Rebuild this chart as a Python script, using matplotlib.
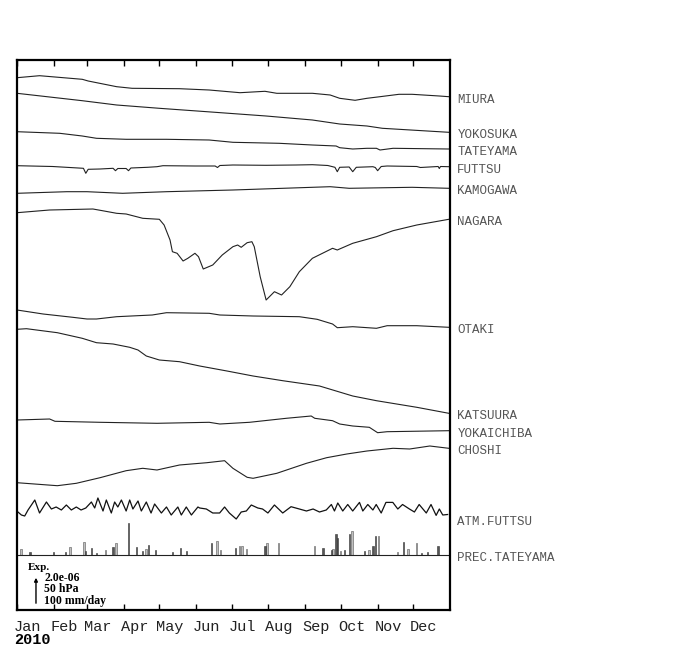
import numpy as np
import matplotlib.pyplot as plt
from matplotlib import transforms

# x = day of year 2010, y = trace position on the sheet (downwards)
miura_d = [0, 19, 55, 60, 84, 97, 137, 162, 188, 209, 219, 249, 264, 272, 285, 295, 306, 322, 333, 356, 364]
miura_y = [77.7, 75.7, 79.3, 81, 86.7, 88.3, 88.7, 90, 92.7, 91.3, 93.3, 93.3, 95, 98.3, 100.3, 98.3, 96.7, 94.3, 94.3, 96, 96.7]

yokosuka_d = [0, 55, 84, 120, 160, 210, 249, 272, 295, 308, 364]
yokosuka_y = [93.3, 100.7, 105, 108.3, 111.7, 116, 120, 124, 126, 128.3, 132.3]

tateyama_d = [0, 36, 55, 67, 92, 126, 162, 182, 221, 249, 269, 272, 283, 295, 303, 306, 317, 364]
tateyama_y = [131.7, 133.3, 136, 138.3, 139.3, 139.3, 140, 142.3, 143.3, 145, 146, 147.7, 149, 148.3, 148.3, 150, 148.3, 149]

futtsu_d = [0, 30, 56, 58, 60, 70, 81, 83, 85, 92, 94, 96, 110, 118, 123, 150, 167, 169, 171, 182, 210,
            235, 249, 262, 268, 270, 272, 280, 283, 286, 300, 302, 304, 307, 312, 337, 340, 355, 356, 357, 364]
futtsu_y = [165.7, 166.5, 168.3, 173.3, 169.3, 169, 168.3, 170.7, 168.5, 168.5, 170.7, 168, 167.3, 166.7, 165.7,
            166, 166, 167.5, 165.5, 165, 165.3, 165, 164.7, 165.5, 167.3, 171.7, 167.3, 167, 171.7, 167.3,
            166.7, 167.5, 170.7, 166.5, 166, 166.5, 167.5, 166.5, 168.5, 166.5, 166.7]

kamogawa_d = [0, 42, 59, 89, 126, 182, 249, 264, 280, 333, 364]
kamogawa_y = [193.3, 191.7, 191.7, 193.3, 191.7, 190, 187.3, 186.7, 188.3, 187.3, 188.3]

nagara_d = [0, 27.5, 64, 72, 84, 92, 106, 120, 124, 129, 131, 135, 140, 144, 150, 153, 157, 165, 173, 182,
            186, 189, 194, 198, 200, 205, 210, 217, 223, 230, 238, 249, 266, 270, 283, 303, 317, 337, 364]
nagara_y = [212.7, 210, 209, 210.7, 213.3, 214, 218.3, 219.3, 225, 240, 251.7, 253.3, 261, 258.3, 253.3,
            256.7, 269, 265, 255, 246.7, 245, 247.3, 242.7, 241.7, 246.7, 276.7, 300, 291.7, 295, 286.7,
            271.7, 258.3, 248.3, 250, 243.3, 236.7, 230.7, 225, 219.3]

otaki_d = [0, 22, 47, 59, 67, 84, 114, 126, 162, 171, 199, 238, 253, 266, 270, 283, 303, 312, 337, 364]
otaki_y = [310, 314, 317.3, 319, 319, 316.7, 315, 312.7, 313.3, 315, 316, 316.7, 319.3, 324, 327.7, 326.7,
           328.3, 325.7, 325.7, 327.3]

katsuura_d = [0, 8, 34, 55, 67, 81, 95, 102, 109, 120, 137, 154, 177, 199, 224, 255, 283, 303, 337, 364]
katsuura_y = [329.3, 328.7, 332.7, 338.3, 342.7, 344, 347.3, 350, 356, 360, 361.7, 366, 371, 376, 380.7,
              386, 396, 400.7, 407.3, 413.3]

yokaichiba_d = [0, 27.5, 32, 70, 118, 162, 171, 196, 227, 248, 251, 266, 272, 283, 297, 304, 312, 364]
yokaichiba_y = [420, 419, 421.3, 422.3, 423.3, 422.3, 424, 422.3, 418.3, 416, 418.3, 420.7, 424, 426,
                427.3, 432.7, 431.7, 430.7]

choshi_d = [0, 34, 50, 70, 92, 106, 118, 137, 160, 175, 182, 194, 199, 219, 244, 261, 278, 295, 317, 331, 348, 364]
choshi_y = [482.7, 485.7, 483.3, 477.7, 470.7, 468.3, 470, 465, 462.7, 460.7, 468.3, 477.3, 478.3, 473.3,
            463.3, 457.7, 454, 451, 448.3, 449, 446, 448.3]

atm_d = [0.8, 3.7, 6.5, 9.3, 15, 19, 24.8, 29, 33, 37.4, 41.6, 45.8, 50, 54, 58, 62.7, 65.5, 68.2, 72.5,
         75.3, 79.5, 82.3, 85, 88, 92, 95, 97.7, 102, 104.8, 109, 113, 116, 121.7, 126, 130, 135.6, 138.5,
         142.7, 147, 152.5, 154, 159.6, 165, 170.8, 175, 179, 184.8, 189, 193.3, 197.5, 203, 207, 211.5,
         217, 224, 231, 238, 244, 249.6, 255, 260.7, 265, 267.6, 270.4, 274.6, 278.8, 283, 288.7, 291.5,
         295.7, 300, 302.8, 307, 311, 316.8, 321, 325, 330.8, 335, 339, 345, 349, 353.3, 356, 358.9, 363]
atm_y = [512, 515, 516, 510, 500, 513, 502, 509, 507, 510, 505, 510, 507, 510, 508, 502, 508, 498, 511,
         500, 513, 502, 507, 500, 511, 500, 509, 501, 511, 502, 513, 504, 513, 507, 515, 507, 515,
         507, 515, 507, 508, 509, 513, 513, 507, 513, 519, 512, 511, 505, 508, 509, 513,
         505, 513, 506.7, 509, 511, 509, 512, 510, 504.5, 511, 503, 511, 504.5, 511, 502.4, 511,
         504.5, 510, 504.5, 513, 502.4, 502.4, 509, 504.5, 509, 512, 504.5, 513, 504.5, 515.4, 509, 515, 514.5]

# precipitation (mm/day), two gauges
prec_light_d = [3, 44, 56, 74, 83, 108, 168, 171, 187, 189, 193, 210, 220, 250, 266, 272, 282, 296, 304, 320, 329, 336]
prec_light_v = [20, 27, 43, 17, 40, 20, 46, 16, 30, 30, 19, 40, 40, 30, 20, 13, 80, 17, 63, 10, 20, 40]
prec_dark_d = [11, 31, 41, 58, 63, 67, 81, 94, 101, 106, 111, 117, 131, 138, 143, 164, 184, 209, 258, 265,
               269, 270, 276, 280, 293, 300, 302, 326, 341, 346, 355]
prec_dark_v = [10, 10, 10, 13, 23, 7, 27, 107, 27, 13, 33, 17, 10, 23, 13, 40, 23, 30, 23, 17,
               69, 56, 17, 69, 13, 30, 63, 43, 7, 10, 30]
prec_base = 555
px_per_mm = 0.3

labels = ['MIURA', 'YOKOSUKA', 'TATEYAMA', 'FUTTSU', 'KAMOGAWA', 'NAGARA', 'OTAKI',
          'KATSUURA', 'YOKAICHIBA', 'CHOSHI', 'ATM.FUTTSU', 'PREC.TATEYAMA']
months = ['Jan', 'Feb', 'Mar', 'Apr', 'May', 'Jun', 'Jul', 'Aug', 'Sep', 'Oct', 'Nov', 'Dec']
month_start = [0, 31, 59, 90, 120, 151, 181, 212, 243, 273, 304, 334]

series = [(miura_d, miura_y), (yokosuka_d, yokosuka_y), (tateyama_d, tateyama_y), (futtsu_d, futtsu_y),
          (kamogawa_d, kamogawa_y), (nagara_d, nagara_y), (otaki_d, otaki_y), (katsuura_d, katsuura_y),
          (yokaichiba_d, yokaichiba_y), (choshi_d, choshi_y)]

fig = plt.figure(figsize=(7, 6.7), dpi=100)
ax = fig.add_axes([17 / 700, 60 / 670, 433 / 700, 550 / 670])
ax.set_xlim(0, 365)
ax.set_ylim(610, 60)

for d, y in series:
    ax.plot(d, y, color='#222222', lw=0.8)
ax.plot(atm_d, atm_y, color='#111111', lw=0.9)

# precipitation bars
ax.axhline(prec_base, color='#222222', lw=0.8)
ax.bar(np.array(prec_light_d) + 0.6, -np.array(prec_light_v) * px_per_mm, bottom=prec_base, width=1.3,
       color='#c0c0c0', edgecolor='#555555', lw=0.4)
ax.bar(prec_dark_d, -np.array(prec_dark_v) * px_per_mm, bottom=prec_base, width=1.1,
       color='#555555', edgecolor='#333333', lw=0.4)

# labels at the right
ends = [y[-1] for d, y in series] + [519, prec_base]
trans = transforms.blended_transform_factory(ax.transAxes, ax.transData)
for lab, yy in zip(labels, ends):
    ax.text(1.017, yy + 3, lab, transform=trans, va='center', ha='left', fontsize=9,
            family='Liberation Mono', color='#555555')

# scale legend
ax.annotate('', xy=(16, 575), xytext=(16, 606),
            arrowprops=dict(arrowstyle='-|>', color='black', lw=1.0, mutation_scale=5))
ax.text(9, 568, 'Exp.', fontsize=8, family='Liberation Serif', weight='bold', va='center')
ax.text(23, 589.5, '2.0e-06\n50 hPa\n100 mm/day', fontsize=8.5, family='Liberation Serif', weight='bold',
        va='center', linespacing=0.95)

ax.set_yticks([])
ax.set_xticks(month_start)
ax.set_xticklabels(months, ha='left', fontsize=11, family='Liberation Mono', color='#222222')
ax.tick_params(axis='x', direction='in', length=4, width=1, top=True, pad=7)
offset = transforms.ScaledTranslation(-3 / 100, 0, fig.dpi_scale_trans)
for t in ax.get_xticklabels():
    t.set_transform(t.get_transform() + offset)
for s in ax.spines.values():
    s.set_linewidth(1.6)

fig.text(14 / 700, 1 - 640 / 670, '2010', fontsize=11, family='Liberation Mono', weight='bold', va='center')

fig.savefig('out.png', dpi=100)
